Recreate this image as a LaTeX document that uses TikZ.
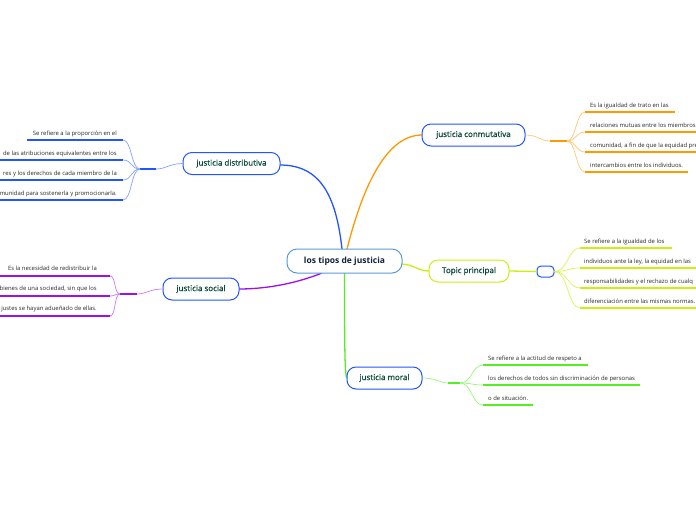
\documentclass[tikz,border=0pt]{standalone}
\usepackage{fontspec}
\setmainfont{Open Sans}
\newfontfamily\semib[FakeBold=0.8]{Open Sans}
\definecolor{cblue}{HTML}{2255FF}
\definecolor{corange}{HTML}{FF9900}
\definecolor{cyellow}{HTML}{CCEE11}
\definecolor{cpurple}{HTML}{9911EE}
\definecolor{cgreen}{HTML}{55EE22}
\definecolor{ctext}{HTML}{0E4A3A}
\definecolor{cmain}{HTML}{5A9AD8}
\definecolor{cnavy}{HTML}{14213D}
\definecolor{cleaf}{HTML}{2A2A2A}
\tikzset{
  topic/.style={draw=cblue, line width=1pt, rounded corners=9pt, fill=white, text=ctext,
    font=\semib\fontsize{8}{9}\selectfont, minimum height=22pt, inner sep=0pt},
  mainbox/.style={draw=cmain, line width=1pt, rounded corners=10pt, fill=white, text=cnavy,
    font=\bfseries\fontsize{8.5}{10}\selectfont, minimum height=24pt, inner sep=0pt},
  leaf/.style={font=\fontsize{5.9}{7}\selectfont, text=cleaf, inner sep=0pt},
  uline/.style={line width=1.6pt},
  thinc/.style={line width=0.7pt},
  mainc/.style={line width=1.3pt}
}
\begin{document}
\begin{tikzpicture}[x=1pt,y=-1pt]
\useasboundingbox (0,0) rectangle (696,520);
\clip (0,0) rectangle (696,520);
\fill[white] (0,0) rectangle (696,520);

% ---------- coordinates ----------
\coordinate (dh1) at (140,169); \coordinate (dh2) at (156,169);
\coordinate (d1) at (123,140); \coordinate (d2) at (123,160);
\coordinate (d3) at (123,180); \coordinate (d4) at (123,200);
\coordinate (sh1) at (120,294); \coordinate (sh2) at (137,294);
\coordinate (s1) at (110,276); \coordinate (s2) at (110,296); \coordinate (s3) at (110,316);
\coordinate (ch1) at (550,141); \coordinate (ch2) at (567,141);
\coordinate (c1) at (585,112); \coordinate (c2) at (585,132);
\coordinate (c3) at (585,152); \coordinate (c4) at (585,172);
\coordinate (p1) at (580,248); \coordinate (p2) at (580,268);
\coordinate (p3) at (580,288); \coordinate (p4) at (580,308);
\coordinate (mh1) at (448,383); \coordinate (mh2) at (460,383);
\coordinate (m1) at (483,365); \coordinate (m2) at (483,385); \coordinate (m3) at (483,405);

% ---------- main connectors ----------
\draw[cblue,mainc] (342,249) .. controls (336,195) and (320,165) .. (280,165);
\draw[corange,mainc] (347,249) .. controls (362,190) and (385,135) .. (422,135);
\draw[cyellow,mainc] (402,264) .. controls (415,265) and (418,271) .. (429,271);
\draw[cpurple,mainc] (322,273) .. controls (292,285) and (262,289) .. (239,289);
\draw[cgreen,mainc] (344.5,273) .. controls (344.5,330) and (344.5,378) .. (347,378);

% ---------- nodes ----------
\node[mainbox, minimum width=115pt] (root) at (344.5,261) {los tipos de justicia};
\node[topic, minimum width=97pt] (dist) at (231.5,163.5) {justicia distributiva};
\node[topic, minimum width=103pt] (conm) at (473.5,135) {justicia conmutativa};
\node[topic, draw=cyellow, minimum width=80pt] (princ) at (469,271) {Topic principal};
\node[topic, minimum width=76pt] (soc) at (201,289) {justicia social};
\node[topic, minimum width=75pt] (mor) at (384.5,378) {justicia moral};
\node[draw=cblue, line width=1pt, rounded corners=4pt, minimum width=17pt, minimum height=11pt, inner sep=0pt, fill=white] (emp) at (545.5,271.5) {};

% ---------- distributiva ----------
\draw[cblue!55,thinc] (dist.west) .. controls (170,163.5) and (166,169) .. (dh2);
\draw[cblue,uline] (dh1) -- (dh2);
\foreach \t in {d1,d2,d3,d4}{
  \draw[cblue!55,thinc] (dh1) .. controls (131,169) and (132,0|-\t) .. (\t);
}
\draw[cblue,uline] (27,140) -- (d1);
\draw[cblue,uline] (0,160) -- (d2);
\draw[cblue,uline] (0,180) -- (d3);
\draw[cblue,uline] (0,200) -- (d4);
\node[leaf, anchor=base east] (dt1) at (117,135) {Se refiere a la proporción en el};
\node[leaf, anchor=base east] (dt2) at (117,155) {de las atribuciones equivalentes entre los};
\node[leaf, anchor=base east] (dt3) at (117,175) {res y los derechos de cada miembro de la};
\node[leaf, anchor=base east] (dt4) at (117,195) {munidad para sostenerla y promocionarla.};

% ---------- social ----------
\draw[cpurple!55,thinc] (soc.west) .. controls (150,289) and (146,294) .. (sh2);
\draw[cpurple,uline] (sh1) -- (sh2);
\foreach \t in {s1,s2,s3}{
  \draw[cpurple!55,thinc] (sh1) .. controls (114,294) and (116,0|-\t) .. (\t);
}
\draw[cpurple,uline] (0,276) -- (s1);
\draw[cpurple,uline] (0,296) -- (s2);
\draw[cpurple,uline] (0,316) -- (s3);
\node[leaf, anchor=base east] (st1) at (97,270) {Es la necesidad de redistribuir la};
\node[leaf, anchor=base east] (st2) at (97,290) {bienes de una sociedad, sin que los};
\node[leaf, anchor=base east] (st3) at (97,310) {justes se hayan adueñado de ellas.};

% ---------- conmutativa ----------
\draw[corange!55,thinc] (conm.east) .. controls (538,135) and (540,141) .. (ch1);
\draw[corange,uline] (ch1) -- (ch2);
\foreach \t in {c1,c2,c3,c4}{
  \draw[corange!55,thinc] (ch2) .. controls (576,141) and (576,0|-\t) .. (\t);
}
\draw[corange,uline] (c1) -- (675,112);
\draw[corange,uline] (c2) -- (700,132);
\draw[corange,uline] (c3) -- (700,152);
\draw[corange,uline] (c4) -- (688,172);
\node[leaf, anchor=base west] (ct1) at (590,107) {Es la igualdad de trato en las};
\node[leaf, anchor=base west] (ct2) at (590,127) {relaciones mutuas entre los miembros};
\node[leaf, anchor=base west] (ct3) at (590,147) {comunidad, a fin de que la equidad pre};
\node[leaf, anchor=base west] (ct4) at (590,167) {intercambios entre los individuos.};

% ---------- topic principal ----------
\draw[cyellow,mainc] (princ.east) -- (emp.west);
\foreach \t in {p1,p2,p3,p4}{
  \draw[cyellow!70,thinc] (emp.east) .. controls (568,271.5) and (568,0|-\t) .. (\t);
}
\draw[cyellow,uline] (p1) -- (672,248);
\draw[cyellow,uline] (p2) -- (700,268);
\draw[cyellow,uline] (p3) -- (700,288);
\draw[cyellow,uline] (p4) -- (700,308);
\node[leaf, anchor=base west] (pt1) at (584,243) {Se refiere a la igualdad de los};
\node[leaf, anchor=base west] (pt2) at (584,263) {individuos ante la ley, la equidad en las};
\node[leaf, anchor=base west] (pt3) at (584,283) {responsabilidades y el rechazo de cualq};
\node[leaf, anchor=base west] (pt4) at (584,303) {diferenciación entre las mismas normas.};

% ---------- moral ----------
\draw[cgreen!60,thinc] (mor.east) .. controls (436,378) and (440,383) .. (mh1);
\draw[cgreen,uline] (mh1) -- (mh2);
\foreach \t in {m1,m2,m3}{
  \draw[cgreen!60,thinc] (mh2) .. controls (472,383) and (472,0|-\t) .. (\t);
}
\draw[cgreen,uline] (m1) -- (588,365);
\draw[cgreen,uline] (m2) -- (640,385);
\draw[cgreen,uline] (m3) -- (533,405);
\node[leaf, anchor=base west] (mt1) at (488,360) {Se refiere a la actitud de respeto a};
\node[leaf, anchor=base west] (mt2) at (488,380) {los derechos de todos sin discriminación de personas};
\node[leaf, anchor=base west] (mt3) at (488,400) {o de situación.};
\end{tikzpicture}
\end{document}
